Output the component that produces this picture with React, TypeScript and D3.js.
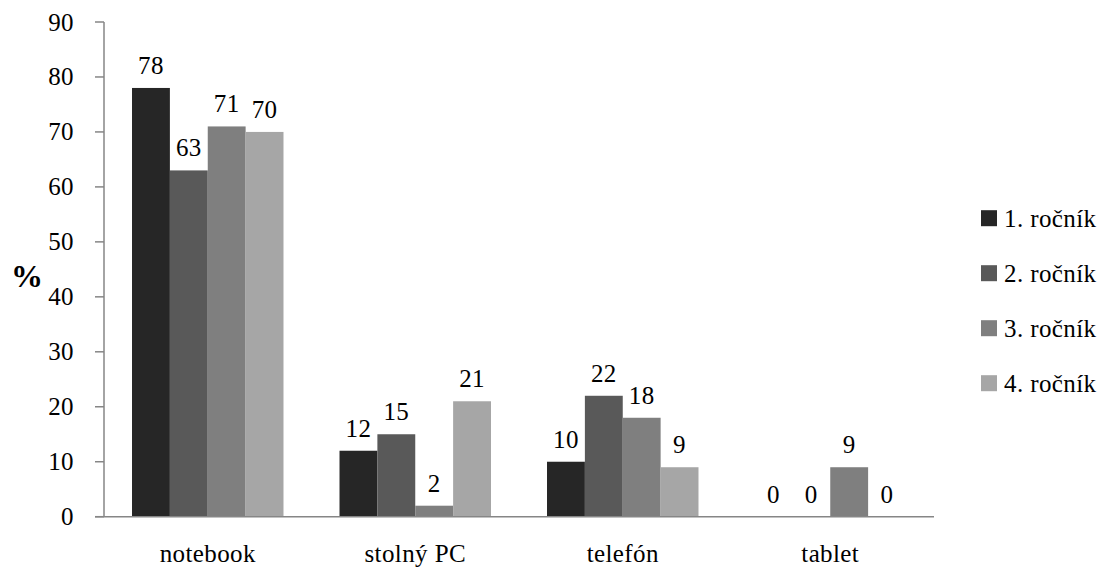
import React from "react";
import * as d3 from "d3";

// Device usage by school year (%)
const categories = ["notebook", "stolný PC", "telefón", "tablet"];
const seriesNames = ["1. ročník", "2. ročník", "3. ročník", "4. ročník"];
const year1 = [78, 12, 10, 0];
const year2 = [63, 15, 22, 0];
const year3 = [71, 2, 18, 9];
const year4 = [70, 21, 9, 0];
const seriesValues = [year1, year2, year3, year4];
const yTicks = [0, 10, 20, 30, 40, 50, 60, 70, 80, 90];
const colors = ["#262626", "#595959", "#7f7f7f", "#a6a6a6"];

const W = 1102;
const H = 568;
const left = 104;
const right = 934;
const top = 22;
const bottom = 516.7;
const FONT = '"Liberation Serif", Tinos, "DejaVu Serif", "Noto Serif", serif';
const FS = 25;

export default function App() {
  const x0 = d3.scaleBand<string>().domain(categories).range([left, right]).paddingInner(0.27).paddingOuter(0.135);
  const x1 = d3.scaleBand<string>().domain(seriesNames).range([0, x0.bandwidth()]);
  const y = d3.scaleLinear().domain([0, 90]).range([bottom, top]);
  const axisColor = "#868686";
  const txt = { fontFamily: FONT, fontSize: FS, letterSpacing: "0.4px" } as React.CSSProperties;

  return (
    <svg width={W} height={H} style={{ position: "absolute", left: 0, top: 0, background: "#fff", fontFamily: FONT }}>
      {/* bars */}
      {categories.map((c, ci) => (
        <g key={c}>
          {seriesNames.map((s, si) => {
            const v = seriesValues[si][ci];
            const bx = (x0(c) as number) + (x1(s) as number);
            return (
              <g key={s}>
                <rect x={bx} y={y(v)} width={x1.bandwidth()} height={y(0) - y(v)} fill={colors[si]} />
                <text x={bx + x1.bandwidth() / 2} y={y(v) - 14} textAnchor="middle" style={txt} fill="#000">
                  {v}
                </text>
              </g>
            );
          })}
        </g>
      ))}

      {/* y axis */}
      <line x1={left} x2={left} y1={top} y2={bottom} stroke={axisColor} strokeWidth={1.5} />
      {yTicks.map((t) => (
        <g key={t}>
          <line x1={left - 9} x2={left} y1={y(t)} y2={y(t)} stroke={axisColor} strokeWidth={1.5} />
          <text x={74} y={y(t)} dy="0.34em" textAnchor="end" style={txt} fill="#000">
            {t}
          </text>
        </g>
      ))}
      {/* x axis */}
      <line x1={left - 9} x2={right} y1={bottom} y2={bottom} stroke={axisColor} strokeWidth={1.5} />
      {categories.map((c) => (
        <text key={c} x={(x0(c) as number) + x0.bandwidth() / 2} y={562} textAnchor="middle" style={txt} fill="#000">
          {c}
        </text>
      ))}

      {/* y axis title */}
      <text x={27} y={287} textAnchor="middle" style={{ fontFamily: FONT, fontSize: 32, fontWeight: "bold" }} fill="#000">
        %
      </text>

      {/* legend */}
      {seriesNames.map((s, i) => {
        const by = 226.7 + i * 55;
        return (
          <g key={s}>
            <rect x={981} y={by - 16.5} width={16} height={16} fill={colors[i]} />
            <text x={1004} y={by} style={txt} fill="#000">
              {s}
            </text>
          </g>
        );
      })}
    </svg>
  );
}
